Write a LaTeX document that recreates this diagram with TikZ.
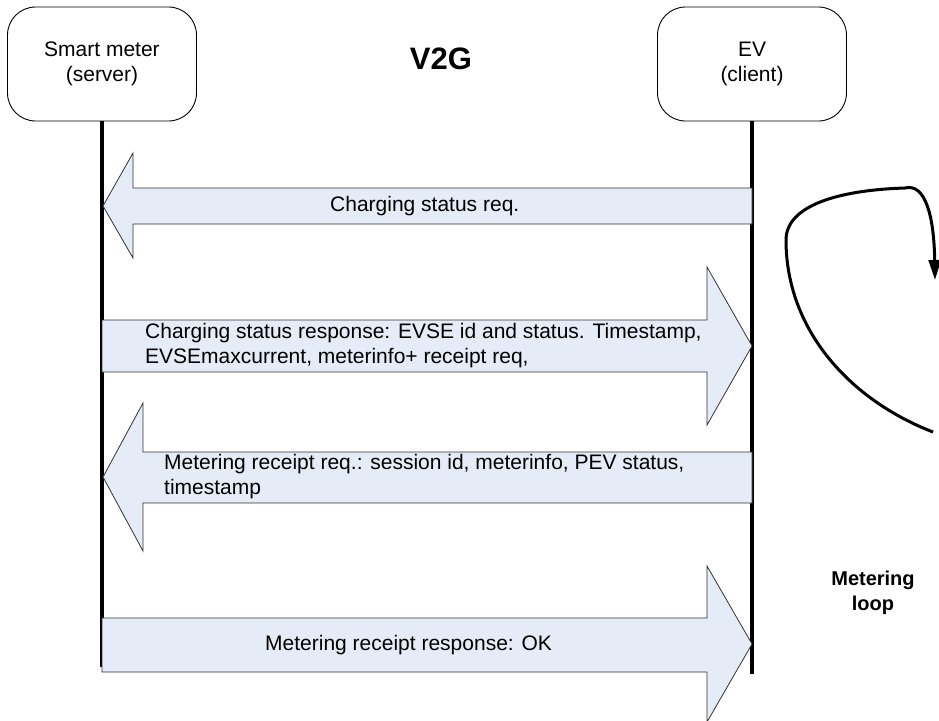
\documentclass[tikz,border=0pt]{standalone}
\usepackage{fontspec}
\setmainfont{Liberation Sans}
\usetikzlibrary{arrows.meta}
\definecolor{msgfill}{RGB}{230,236,247}
\definecolor{msgedge}{RGB}{50,50,50}
\begin{document}
\begin{tikzpicture}[x=1pt,y=-1pt,
  actor/.style={draw=black, line width=0.9pt, rounded corners=28pt,
    minimum width=189pt, minimum height=114pt, align=center, inner sep=0pt,
    font=\fontsize{21}{25}\selectfont},
  lifeline/.style={line width=4pt},
  msg/.style={fill=msgfill, draw=msgedge, line width=0.8pt},
  msgtext/.style={font=\fontsize{21}{25}\selectfont, align=left, inner sep=0pt, anchor=west},
  looparrow/.style={line width=3pt, -{Triangle[length=20pt,width=12pt]}}]
\useasboundingbox (0,0) rectangle (939,720);

% participants
\node[actor] (sm) at (102,64) {Smart meter\\(server)};
\node[actor] (ev) at (752,64) {EV\\(client)};
\node[font=\fontsize{31}{35}\selectfont\bfseries] (title) at (441,59) {V2G};

% lifelines
\coordinate (smend) at (102,667);
\coordinate (evend) at (752,674);
\draw[lifeline] (sm.south) -- (smend);
\draw[lifeline] (ev.south) -- (evend);

% message 1: EV -> smart meter
\draw[msg] (752,188) -- (133,188) -- (133,153) -- (103,206) -- (133,258)
  -- (133,224) -- (752,224) -- cycle;
\node[msgtext] (m1) at (330,206) {Charging status req.};

% message 2: smart meter -> EV
\draw[msg] (102,320) -- (707,320) -- (707,267) -- (752,346) -- (707,425)
  -- (707,372) -- (102,372) -- cycle;
\node[msgtext] (m2) at (145,346) {Charging status response: EVSE id and status. Timestamp,\\EVSEmaxcurrent, meterinfo+ receipt req,};

% message 3: EV -> smart meter
\draw[msg] (752,452) -- (143,452) -- (143,403) -- (103,477) -- (143,551)
  -- (143,503) -- (752,503) -- cycle;
\node[msgtext] (m3) at (164,477) {Metering receipt req.: session id, meterinfo, PEV status,\\timestamp};

% message 4: smart meter -> EV
\draw[msg] (102,618) -- (707,618) -- (707,566) -- (752,644) -- (707,722)
  -- (707,672) -- (102,672) -- cycle;
\node[msgtext] (m4) at (265,645) {Metering receipt response: OK};

% metering loop
\coordinate (lstart) at (933,432);
\coordinate (lleft) at (786,240);
\coordinate (ltop) at (905,188);
\coordinate (lend) at (935,280);
\draw[looparrow] (lstart) .. controls (850,400) and (786,330) .. (lleft)
  .. controls (786,205) and (840,190) .. (ltop)
  .. controls (925,183) and (934,215) .. (lend);
\node[font=\fontsize{20}{25}\selectfont\bfseries, align=center] (looplabel) at (873,593) {Metering\\loop};
\end{tikzpicture}
\end{document}
